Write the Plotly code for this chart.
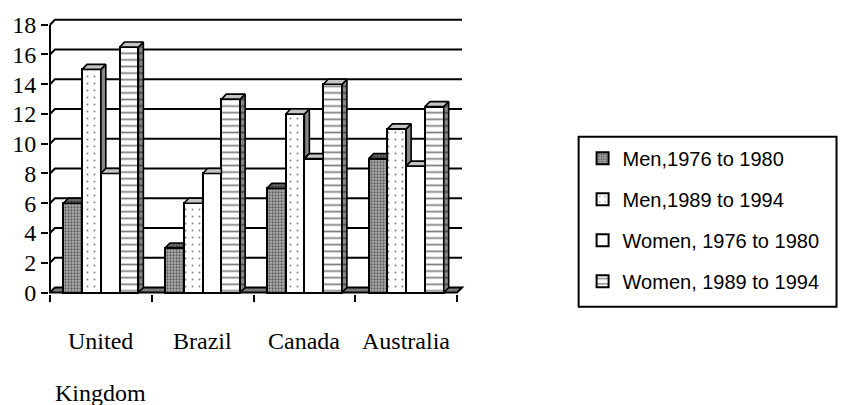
import plotly.graph_objects as go

# ---- data -------------------------------------------------------------
categories = ["United Kingdom", "Brazil", "Canada", "Australia"]
series_names = ["Men,1976 to 1980", "Men,1989 to 1994",
                "Women, 1976 to 1980", "Women, 1989 to 1994"]
men_1976_1980 = [6, 3, 7, 9]
men_1989_1994 = [15, 6, 12, 11]
women_1976_1980 = [8, 8, 9, 8.5]
women_1989_1994 = [16.5, 13, 14, 12.5]
y_ticks = [0, 2, 4, 6, 8, 10, 12, 14, 16, 18]

series_values = [men_1976_1980, men_1989_1994, women_1976_1980, women_1989_1994]

# ---- geometry of the pseudo-3D box (pixels -> axis units) -------------
W, H = 846, 405
PX_PER_X = 103.0          # one category slot
PX_PER_Y = 15.04          # one value unit
X_ORIGIN_PX = 45.0        # left edge of first slot
Y_ORIGIN_PX = 292.5       # value 0 on the front plane
PLOT_L, PLOT_R, PLOT_T, PLOT_B = 44, 465, 14, 294

x_range = [-0.5 - (X_ORIGIN_PX - PLOT_L) / PX_PER_X,
           -0.5 + (PLOT_R - X_ORIGIN_PX) / PX_PER_X]
y_range = [-(PLOT_B - Y_ORIGIN_PX) / PX_PER_Y,
           (Y_ORIGIN_PX - PLOT_T) / PX_PER_Y]

DX = 5.0 / PX_PER_X       # depth offset, horizontal
DY = 5.0 / PX_PER_Y       # depth offset, vertical
BAR_W = 19.0 / PX_PER_X
n_series = len(series_values)
x_lo, x_hi = -0.5, len(categories) - 0.5


def paper_x(px):
    return (px - PLOT_L) / (PLOT_R - PLOT_L)


def paper_y(py):
    return (PLOT_B - py) / (PLOT_B - PLOT_T)


# ---- styles -----------------------------------------------------------
front_styles = [
    dict(color="#b4b4b4", pattern=dict(shape=".", size=3, solidity=0.45,
                                       fgcolor="#000000", bgcolor="#b4b4b4")),
    dict(color="#ffffff", pattern=dict(shape=".", size=7, solidity=0.06,
                                       fgcolor="#000000", bgcolor="#ffffff")),
    dict(color="#ffffff"),
    dict(color="#ffffff", pattern=dict(shape="-", size=6.6, solidity=0.26,
                                       fgcolor="#000000", bgcolor="#ffffff")),
]
top_styles = [
    dict(fillcolor="#6e6e6e", fillpattern=dict(shape=".", size=3, solidity=0.4,
                                               fgcolor="#000000", bgcolor="#6e6e6e")),
    dict(fillcolor="#c4c4c4"),
    dict(fillcolor="#c4c4c4"),
    dict(fillcolor="#c4c4c4"),
]
side_styles = [
    dict(fillcolor="#505050"),
    dict(fillcolor="#888888"),
    dict(fillcolor="#888888"),
    dict(fillcolor="#888888", fillpattern=dict(shape="-", size=6.6, solidity=0.26,
                                               fgcolor="#000000", bgcolor="#888888")),
]
EDGE = dict(color="#000000", width=1.6)

fig = go.Figure()

# front faces of the columns
for i, (name, vals) in enumerate(zip(series_names, series_values)):
    fig.add_trace(go.Bar(
        x=list(range(len(categories))), y=vals, name=name,
        width=BAR_W, offset=(i - n_series / 2) * BAR_W,
        marker=dict(**front_styles[i], line=dict(color="#000000", width=2)),
        legendgroup=name,
    ))

# top and side faces, with the parts hidden by the next column removed
for i, vals in enumerate(series_values):
    tops_x, tops_y, sides_x, sides_y = [], [], [], []
    for c, v in enumerate(vals):
        xl = c + (i - n_series / 2) * BAR_W
        xr = xl + BAR_W
        v_next = series_values[i + 1][c] if i + 1 < n_series else 0.0
        if v_next > v:
            tops_x += [xl, xl + DX, xr, xr, xl, None]
            tops_y += [v, v + DY, v + DY, v, v, None]
        else:
            tops_x += [xl, xl + DX, xr + DX, xr, xl, None]
            tops_y += [v, v + DY, v + DY, v, v, None]
            lo = max(v_next, 0.0)
            sides_x += [xr, xr + DX, xr + DX, xr, xr, None]
            sides_y += [lo, lo + DY, v + DY, v, lo, None]
    if sides_x:
        fig.add_trace(go.Scatter(x=sides_x, y=sides_y, mode="lines", fill="toself",
                                 line=EDGE, showlegend=False, hoverinfo="skip",
                                 **side_styles[i]))
    fig.add_trace(go.Scatter(x=tops_x, y=tops_y, mode="lines", fill="toself",
                             line=EDGE, showlegend=False, hoverinfo="skip",
                             **top_styles[i]))

# back wall gridlines, floor and front value axis (drawn beneath the columns)
shapes = []
for t in y_ticks[1:]:
    shapes.append(dict(type="path", xref="x", yref="y", layer="below",
                       path=f"M{x_lo},{t} L{x_lo + DX},{t + DY} L{x_hi + DX},{t + DY}",
                       line=dict(color="#000000", width=2)))
shapes.append(dict(type="path", xref="x", yref="y", layer="below",
                   path=f"M{x_lo},0 L{x_lo + DX},{DY} L{x_hi + DX},{DY} L{x_hi},0 Z",
                   fillcolor="#7a7a7a", line=dict(color="#000000", width=2)))
shapes.append(dict(type="line", xref="x", yref="y", layer="above",
                   x0=x_lo, x1=x_lo, y0=0, y1=y_ticks[-1],
                   line=dict(color="#000000", width=2)))
# legend frame
shapes.append(dict(type="rect", xref="paper", yref="paper",
                   x0=paper_x(580), x1=paper_x(841), y0=paper_y(307), y1=paper_y(135),
                   line=dict(color="#000000", width=2), fillcolor="rgba(0,0,0,0)"))

# category labels, one word per line
SERIF = "Liberation Serif, Times New Roman, serif"
annotations = []
for c, cat in enumerate(categories):
    for k, word in enumerate(cat.split(" ")):
        annotations.append(dict(x=c, xref="x", y=0, yref="paper", text=word,
                                showarrow=False, xanchor="center", yanchor="middle",
                                yshift=-(47 + 52 * k),
                                font=dict(family=SERIF, size=24, color="#000000")))

fig.update_layout(
    width=W, height=H,
    margin=dict(l=PLOT_L, r=W - PLOT_R, t=PLOT_T, b=H - PLOT_B, pad=0),
    paper_bgcolor="#ffffff", plot_bgcolor="#ffffff",
    barmode="overlay", bargap=0,
    showlegend=True,
    legend=dict(x=paper_x(584), y=paper_y(137), xanchor="left", yanchor="top",
                bgcolor="rgba(0,0,0,0)", borderwidth=0, tracegroupgap=12,
                font=dict(family="Liberation Sans, Arial, sans-serif", size=20,
                          color="#000000")),
    shapes=shapes, annotations=annotations,
    xaxis=dict(range=x_range, tickmode="array",
               tickvals=[x_lo + k for k in range(len(categories) + 1)],
               ticktext=[""] * (len(categories) + 1),
               ticks="outside", ticklen=7, tickwidth=2, tickcolor="#000000",
               showgrid=False, zeroline=False, showline=False, fixedrange=True),
    yaxis=dict(range=y_range, tickmode="array", tickvals=y_ticks,
               ticks="outside", ticklen=7, tickwidth=2, tickcolor="#000000",
               showgrid=False, zeroline=False, showline=False, fixedrange=True,
               tickfont=dict(family=SERIF, size=24, color="#000000")),
    font=dict(family=SERIF, color="#000000"),
)

fig.write_html("out.html")
